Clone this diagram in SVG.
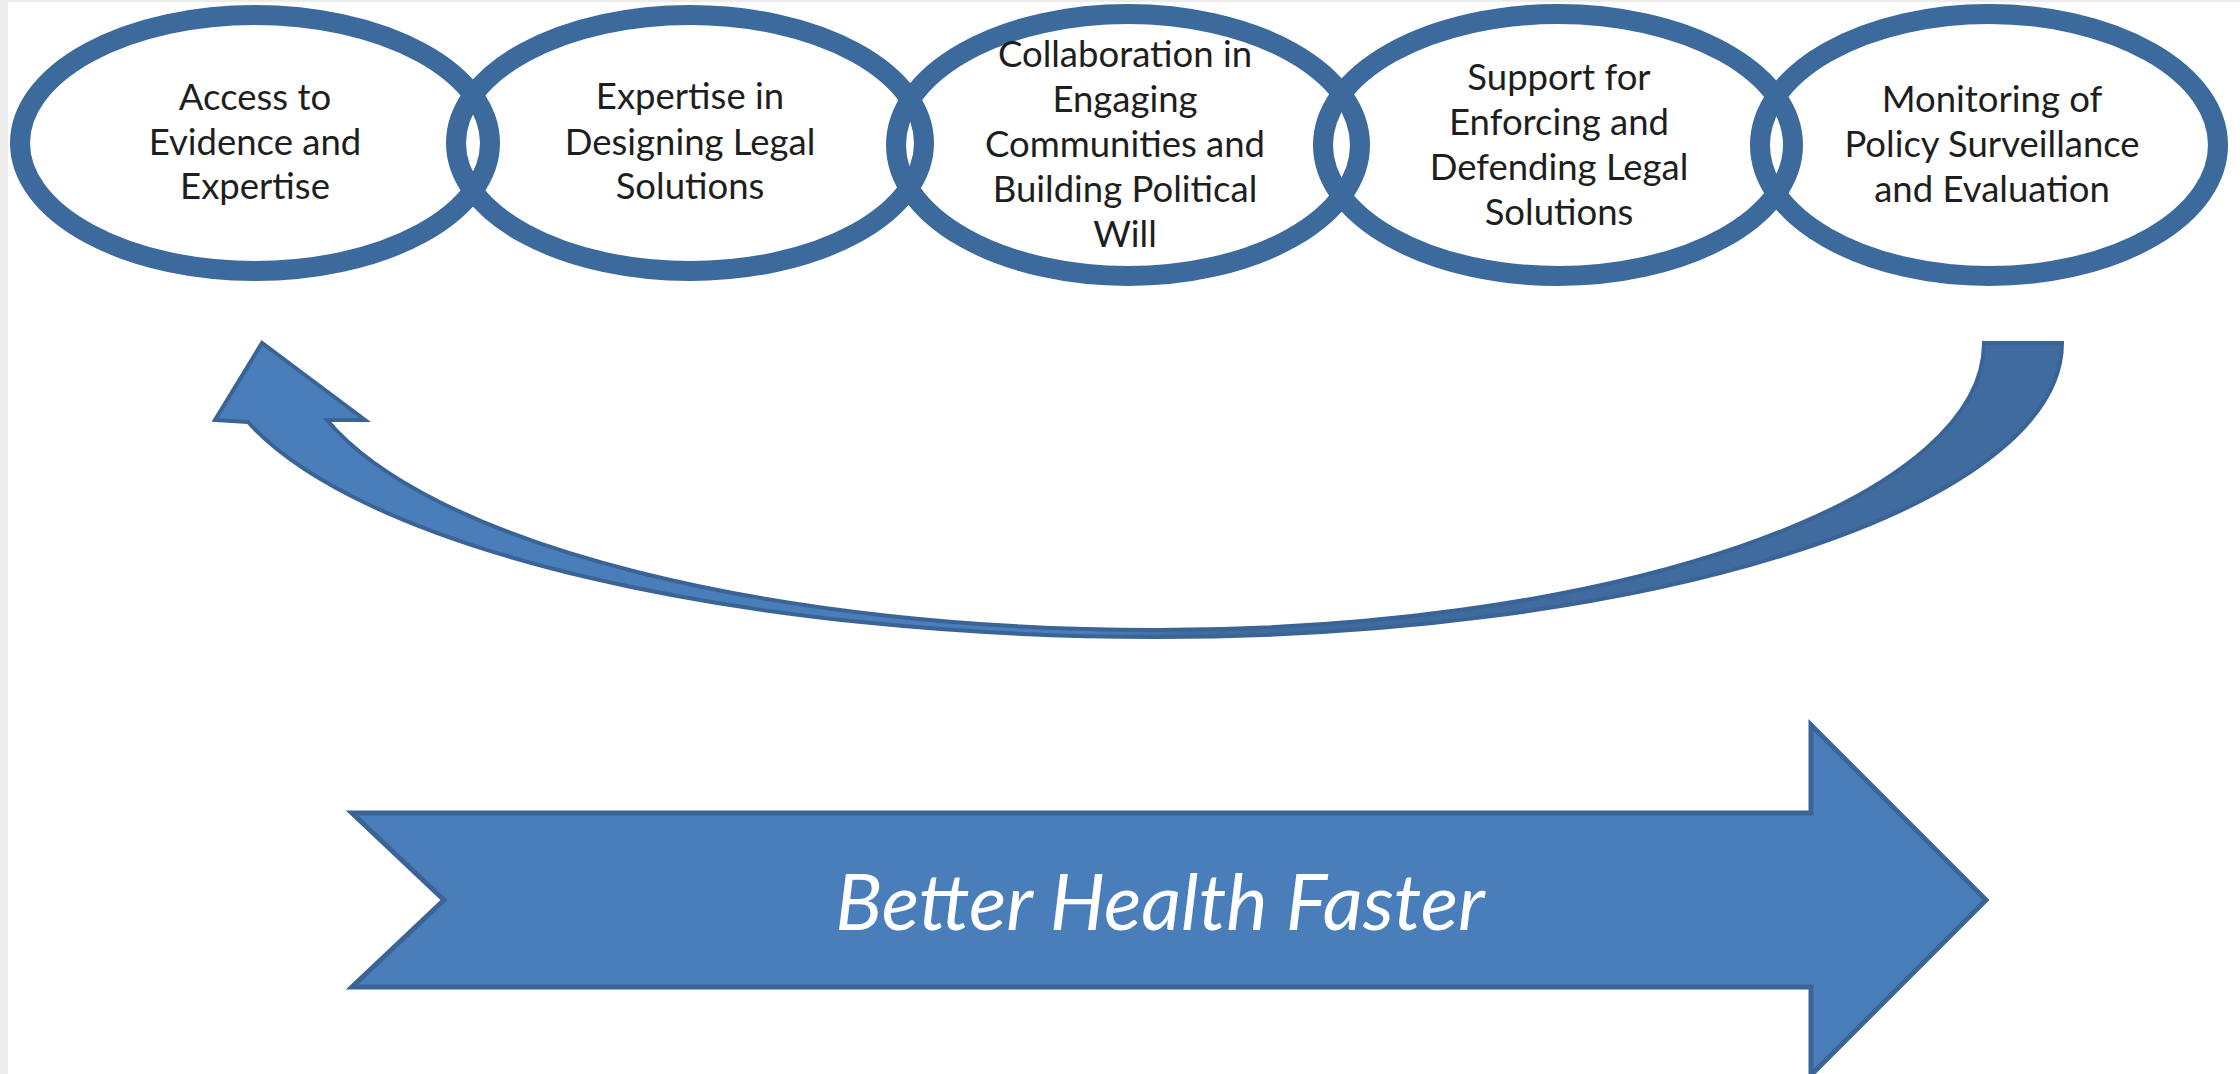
<svg xmlns="http://www.w3.org/2000/svg" width="2240" height="1074" viewBox="0 0 2240 1074">
  <defs>
    <style>
      .ring { fill: none; stroke: #3c6a9c; stroke-width: 20; }
      .label { font-family: Lato, "Liberation Sans", sans-serif; font-size: 36.5px; fill: #1e1e1e; text-anchor: middle; }
      .banner { font-family: Lato, "Liberation Sans", sans-serif; font-style: italic; font-size: 78px; fill: #ffffff; text-anchor: middle; }
    </style>
    <linearGradient id="loopShade" gradientUnits="userSpaceOnUse" x1="250" y1="0" x2="2062" y2="0">
      <stop offset="0" stop-color="#4a7ebb"/>
      <stop offset="0.46" stop-color="#4a7ebb"/>
      <stop offset="0.52" stop-color="#3f6b9e"/>
      <stop offset="1" stop-color="#3f6b9e"/>
    </linearGradient>
  </defs>

  <!-- page -->
  <rect x="0" y="0" width="2240" height="1074" fill="#ffffff"/>
  <rect x="0" y="0" width="8" height="1074" fill="#ececec"/>
  <rect x="0" y="0" width="2240" height="2" fill="#ececec"/>

  <!-- stages -->
  <g id="stage-access">
    <ellipse class="ring" cx="255" cy="143" rx="235" ry="128"/>
    <text class="label"><tspan x="255" y="110">Access to</tspan><tspan x="255" y="155">Evidence and</tspan><tspan x="255" y="199">Expertise</tspan></text>
  </g>
  <g id="stage-design">
    <ellipse class="ring" cx="690" cy="143" rx="234" ry="128"/>
    <text class="label"><tspan x="690" y="109">Expertise in</tspan><tspan x="690" y="155">Designing Legal</tspan><tspan x="690" y="199">Solutions</tspan></text>
  </g>
  <g id="stage-engage">
    <ellipse class="ring" cx="1128" cy="145" rx="232" ry="131"/>
    <text class="label"><tspan x="1125" y="67">Collaboration in</tspan><tspan x="1125" y="112">Engaging</tspan><tspan x="1125" y="157">Communities and</tspan><tspan x="1125" y="202">Building Political</tspan><tspan x="1125" y="247">Will</tspan></text>
  </g>
  <g id="stage-enforce">
    <ellipse class="ring" cx="1558" cy="145" rx="235" ry="131"/>
    <text class="label"><tspan x="1559" y="90">Support for</tspan><tspan x="1559" y="135">Enforcing and</tspan><tspan x="1559" y="180">Defending Legal</tspan><tspan x="1559" y="225">Solutions</tspan></text>
  </g>
  <g id="stage-monitor">
    <ellipse class="ring" cx="1989" cy="145" rx="229" ry="131"/>
    <text class="label"><tspan x="1992" y="112">Monitoring of</tspan><tspan x="1992" y="157">Policy Surveillance</tspan><tspan x="1992" y="202">and Evaluation</tspan></text>
  </g>

  <!-- feedback loop back to the first stage -->
  <g id="connectors">
    <path id="feedback-arrow" fill="url(#loopShade)" stroke="#3a6496" stroke-width="4" stroke-linejoin="miter"
          d="M 2062 343
             A 905 294 0 0 1 1157 637
             A 945 294 0 0 1 248 422
             L 215 420 L 262 343 L 365 420 L 327 420
             A 860 287 0 0 0 1157 630
             A 827 287 0 0 0 1984 343 Z"/>
  </g>

  <!-- outcome arrow -->
  <g id="better-health-faster">
    <polygon points="352,813 1811,813 1811,725 1986,900 1811,1075 1811,987 352,987 444,900" fill="#4a7ebb" stroke="#3a6496" stroke-width="5" stroke-linejoin="miter"/>
    <text class="banner" x="1160" y="930">Better Health Faster</text>
  </g>
</svg>
